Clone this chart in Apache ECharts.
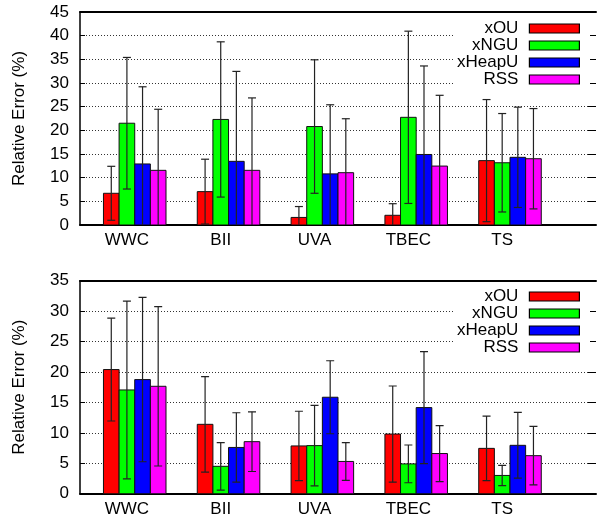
<!DOCTYPE html>
<html>
<head>
<meta charset="utf-8">
<script src="https://cdn.jsdelivr.net/npm/echarts@6/dist/echarts.min.js"></script>
<style>
html,body{margin:0;padding:0;background:#fff;}
#chart{width:599px;height:521px;}
</style>
</head>
<body>
<div id="chart"></div>
<script>
// ---- data ----
const categories = ['WWC', 'BII', 'UVA', 'TBEC', 'TS'];
const seriesNames = ['xOU', 'xNGU', 'xHeapU', 'RSS'];
const seriesColors = ['#ff0000', '#00ff00', '#0000ff', '#ff00ff'];

// top panel: mean and standard deviation
const top_xOU_mean    = [6.7, 7.05, 1.6, 2.05, 13.6];
const top_xOU_sd      = [5.7, 6.85, 2.3, 2.45, 12.9];
const top_xNGU_mean   = [21.5, 22.3, 20.8, 22.75, 13.15];
const top_xNGU_sd     = [13.9, 16.4, 14.1, 18.2, 10.4];
const top_xHeapU_mean = [12.9, 13.45, 10.8, 14.9, 14.3];
const top_xHeapU_sd   = [16.3, 19.0, 14.6, 18.7, 10.6];
const top_RSS_mean    = [11.55, 11.55, 11.05, 12.45, 14.0];
const top_RSS_sd      = [12.9, 15.3, 11.4, 14.95, 10.6];

// bottom panel
const bot_xOU_mean    = [20.4, 11.4, 7.85, 9.8, 7.45];
const bot_xOU_sd      = [8.45, 7.85, 5.7, 7.9, 5.3];
const bot_xNGU_mean   = [17.05, 4.5, 7.9, 4.9, 3.0];
const bot_xNGU_sd     = [14.6, 3.9, 6.6, 3.1, 1.67];
const bot_xHeapU_mean = [18.75, 7.6, 15.85, 14.15, 7.95];
const bot_xHeapU_sd   = [13.5, 5.7, 6.0, 9.2, 5.4];
const bot_RSS_mean    = [17.65, 8.55, 5.3, 6.6, 6.25];
const bot_RSS_sd      = [13.1, 4.9, 3.1, 4.6, 4.8];

const topTicks = {min: 0, max: 45, interval: 5};
const botTicks = {min: 0, max: 35, interval: 5};
const yAxisTitle = 'Relative Error (%)';

// ---- chart ----
const FONT = '"Liberation Sans", Arial, Helvetica, sans-serif';
const BW = 1 / 6; // bar width in category units

const topMeans = [top_xOU_mean, top_xNGU_mean, top_xHeapU_mean, top_RSS_mean];
const topSds = [top_xOU_sd, top_xNGU_sd, top_xHeapU_sd, top_RSS_sd];
const botMeans = [bot_xOU_mean, bot_xNGU_mean, bot_xHeapU_mean, bot_RSS_mean];
const botSds = [bot_xOU_sd, bot_xNGU_sd, bot_xHeapU_sd, bot_RSS_sd];

function makeRender(s) {
  return function (params, api) {
    const cat = api.value(0), mean = api.value(1), sd = api.value(2);
    const x0 = cat + (s - 1.5) * BW, x1 = x0 + BW, xc = cat + (s - 1) * BW;
    const p0 = api.coord([x0, mean]);
    const p1 = api.coord([x1, 0]);
    const lo = mean - sd;
    const pt = api.coord([xc, mean + sd]);
    const pb = api.coord([xc, Math.max(0, lo)]);
    const children = [{
      type: 'rect',
      shape: {x: p0[0], y: p0[1], width: p1[0] - p0[0], height: p1[1] - p0[1]},
      style: {fill: seriesColors[s], stroke: '#111', lineWidth: 1}
    }, {
      type: 'line',
      shape: {x1: pt[0], y1: pt[1], x2: pb[0], y2: pb[1]},
      style: {stroke: '#222', lineWidth: 1.2}
    }, {
      type: 'line',
      shape: {x1: pt[0] - 4, y1: pt[1], x2: pt[0] + 4, y2: pt[1]},
      style: {stroke: '#222', lineWidth: 1.2}
    }];
    if (lo >= 0) {
      children.push({
        type: 'line',
        shape: {x1: pb[0] - 4, y1: pb[1], x2: pb[0] + 4, y2: pb[1]},
        style: {stroke: '#222', lineWidth: 1.2}
      });
    }
    return {type: 'group', children: children};
  };
}

const series = [];
[[topMeans, topSds, 0], [botMeans, botSds, 1]].forEach(function (g) {
  const means = g[0], sds = g[1], gi = g[2];
  for (let s = 0; s < 4; s++) {
    series.push({
      type: 'custom',
      name: seriesNames[s],
      xAxisIndex: gi * 2,
      yAxisIndex: gi * 2,
      itemStyle: {color: seriesColors[s]},
      renderItem: makeRender(s),
      encode: {x: 0, y: 1},
      clip: true,
      data: categories.map(function (c, i) { return [i, means[s][i], sds[s][i]]; })
    });
  }
});

const grids = [
  {left: 80, width: 520, top: 12, height: 213},
  {left: 80, width: 520, top: 280.7, height: 213}
];

const xAxes = [];
const yAxes = [];
[topTicks, botTicks].forEach(function (t, gi) {
  xAxes.push({
    type: 'value', gridIndex: gi, min: -0.5, max: 5, interval: 0.5,
    axisLine: {show: true, onZero: false, lineStyle: {color: '#000', width: 2}},
    axisTick: {show: false},
    splitLine: {show: false},
    axisLabel: {
      interval: 0, margin: 7, color: '#000', fontSize: 17, fontFamily: FONT,
      showMinLabel: true, showMaxLabel: true, hideOverlap: false,
      formatter: function (v) {
        const i = Math.round(v);
        return (Math.abs(v - i) < 1e-6 && categories[i] !== undefined) ? categories[i] : '';
      }
    }
  });
  xAxes.push({
    type: 'value', gridIndex: gi, position: 'top', min: -0.5, max: 5, interval: 0.5,
    axisLine: {show: true, onZero: false, lineStyle: {color: '#000', width: 2}},
    axisTick: {show: false}, axisLabel: {show: false}, splitLine: {show: false}
  });
  yAxes.push({
    type: 'value', gridIndex: gi, min: t.min, max: t.max, interval: t.interval,
    name: yAxisTitle, nameLocation: 'middle', nameGap: 52,
    nameTextStyle: {color: '#000', fontSize: 17, fontFamily: FONT},
    axisLine: {show: true, onZero: false, lineStyle: {color: '#000', width: 1.5}},
    axisTick: {show: true, inside: true, length: 5, lineStyle: {color: '#000'}},
    axisLabel: {margin: 11, color: '#000', fontSize: 17, fontFamily: FONT},
    splitLine: {show: true, lineStyle: {color: '#333', width: 1, type: [1, 2]}}
  });
  yAxes.push({
    type: 'value', gridIndex: gi, position: 'right', min: t.min, max: t.max, interval: t.interval,
    axisLine: {show: false, onZero: false},
    axisTick: {show: true, inside: true, length: 8, lineStyle: {color: '#000'}},
    axisLabel: {show: false},
    splitLine: {show: false}
  });
});

function makeLegend(top) {
  return {
    data: seriesNames,
    orient: 'vertical',
    align: 'right',
    right: 9,
    top: top,
    padding: [4, 10, 4, 2],
    itemGap: 0,
    itemWidth: 50,
    itemHeight: 9,
    icon: 'rect',
    selectedMode: false,
    backgroundColor: '#fff',
    itemStyle: {borderColor: '#000', borderWidth: 1.2},
    textStyle: {color: '#000', fontSize: 17, fontFamily: FONT, lineHeight: 17, padding: [0, 6, 0, 0]}
  };
}

const chart = echarts.init(document.getElementById('chart'), null, {renderer: 'canvas'});
chart.setOption({
  animation: false,
  backgroundColor: '#fff',
  grid: grids,
  xAxis: xAxes,
  yAxis: yAxes,
  legend: [makeLegend(16), makeLegend(284)],
  series: series
});
</script>
</body>
</html>
